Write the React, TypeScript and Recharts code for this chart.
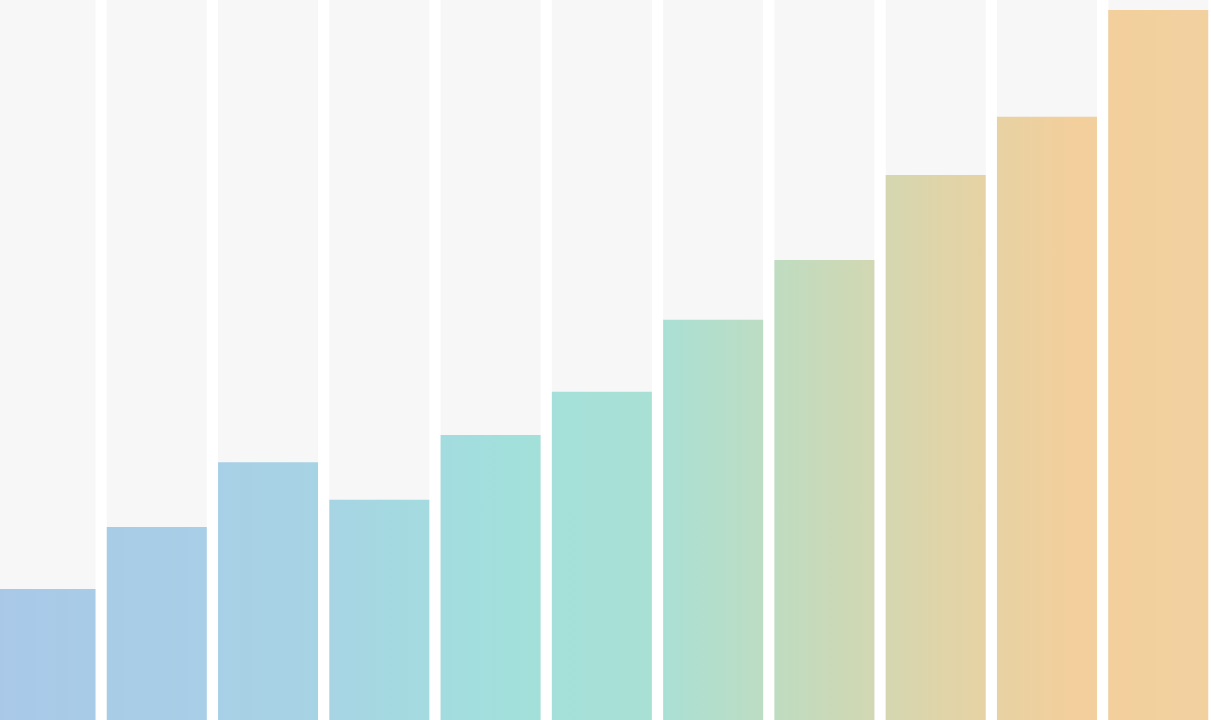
import { BarChart, Bar, XAxis, YAxis } from "recharts";

// eleven monthly steps, as a share of the full track
const steps = ["1", "2", "3", "4", "5", "6", "7", "8", "9", "10", "11"];
const values = [18.2, 26.8, 35.8, 30.6, 39.6, 45.6, 55.6, 63.9, 75.7, 83.8, 98.6];

const data = steps.map((step, i) => ({ step, value: values[i] }));

function App() {
    return (
        <div style={{ position: "absolute", left: 0, top: 0, width: 1211, height: 720, overflow: "hidden", background: "#ffffff" }}>
            <div style={{ position: "absolute", left: -10, top: 0 }}>
                <BarChart
                    width={1224}
                    height={720}
                    data={data}
                    margin={{ top: 0, right: 0, bottom: 0, left: 0 }}
                    barCategoryGap={5.5}
                >
                    <defs>
                        <linearGradient id="barFade" gradientUnits="userSpaceOnUse" x1={0} y1={0} x2={1224} y2={0}>
                            <stop offset="0%" stopColor="#a9c8e8" />
                            <stop offset="25%" stopColor="#a7d2e5" />
                            <stop offset="42%" stopColor="#a2e0dc" />
                            <stop offset="55%" stopColor="#aae0d4" />
                            <stop offset="66%" stopColor="#c3dbbd" />
                            <stop offset="78%" stopColor="#e0d4a8" />
                            <stop offset="88%" stopColor="#f2cf9c" />
                            <stop offset="100%" stopColor="#f2d1a0" />
                        </linearGradient>
                    </defs>
                    <XAxis dataKey="step" hide />
                    <YAxis domain={[0, 100]} hide />
                    <Bar
                        dataKey="value"
                        fill="url(#barFade)"
                        background={{ fill: "#f7f7f8" }}
                        isAnimationActive={false}
                    />
                </BarChart>
            </div>
        </div>
    );
}
export default App;
